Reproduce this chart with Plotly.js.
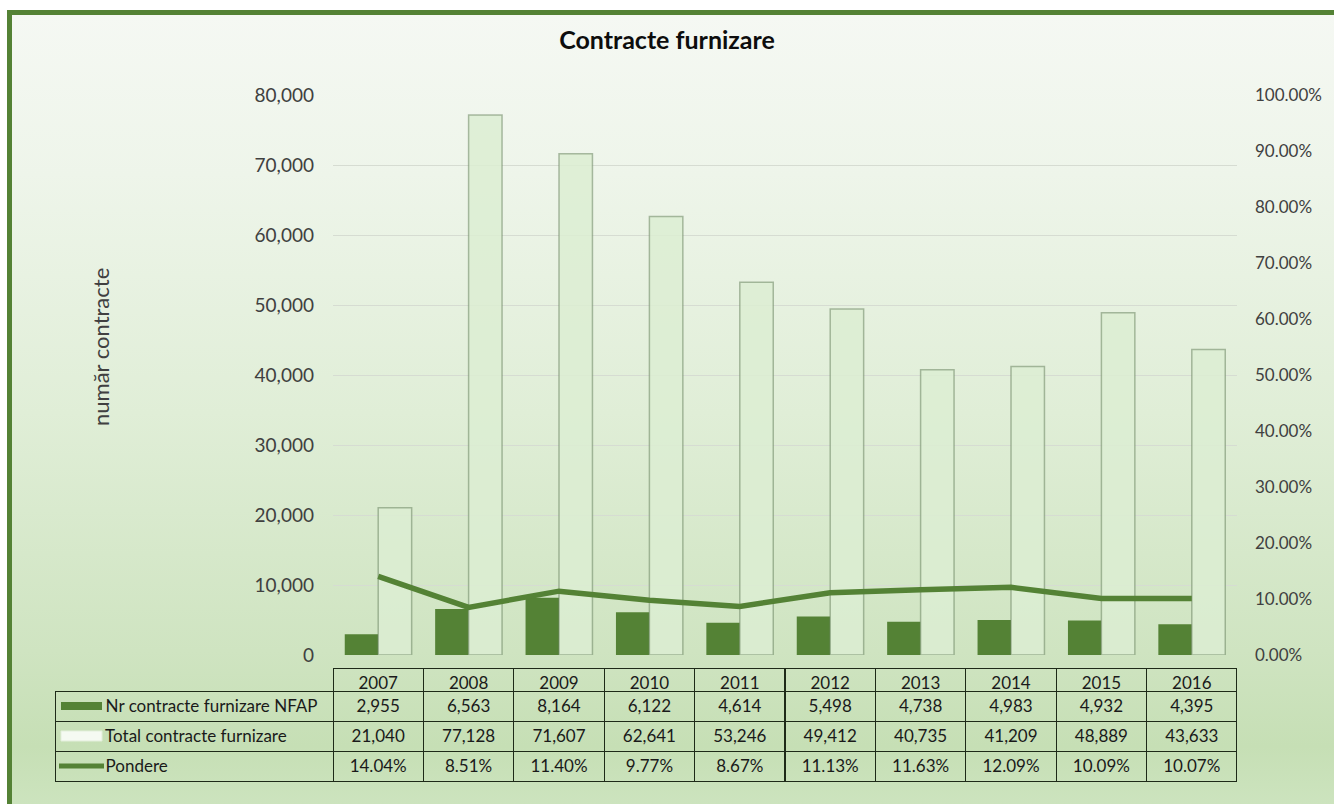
<!DOCTYPE html>
<html>
<head>
<meta charset="utf-8">
<script src="https://cdn.plot.ly/plotly-3.0.1.min.js"></script>
<style>
  html, body { margin: 0; padding: 0; background: #ffffff; overflow: hidden; }
  #frame {
    position: absolute; left: 7px; top: 10px; width: 1340px; height: 800px;
    box-sizing: border-box;
    border-left: 5px solid #548235; border-top: 5px solid #548235;
    background: linear-gradient(to bottom, #f5f8f3 0%, #eef5ea 20%, #e0eed7 50%, #cfe4c1 80%, #c6dfb5 92%, #cde4bf 100%);
  }
  #chart { position: absolute; left: 0; top: 0; width: 1334px; height: 804px; }
</style>
</head>
<body>
<div id="frame"></div>
<div id="chart"></div>
<script>
// ---- data ----
var years = ['2007', '2008', '2009', '2010', '2011', '2012', '2013', '2014', '2015', '2016'];
var nfap = [2955, 6563, 8164, 6122, 4614, 5498, 4738, 4983, 4932, 4395];
var total = [21040, 77128, 71607, 62641, 53246, 49412, 40735, 41209, 48889, 43633];
var pondere = [14.04, 8.51, 11.40, 9.77, 8.67, 11.13, 11.63, 12.09, 10.09, 10.07]; // percent
var seriesNames = ['Nr contracte furnizare NFAP', 'Total contracte furnizare', 'Pondere'];

// ---- geometry helpers (pixels -> paper) ----
var W = 1334, H = 804;
var mL = 55, mR = 97, mT = 95, mB = 22;
var pw = W - mL - mR, ph = H - mT - mB;
function px(x) { return (x - mL) / pw; }
function py(y) { return (H - mB - y) / ph; }

var green = '#548235';
var fontFam = 'Lato, "Open Sans", sans-serif';

var traces = [];
traces.push({
  type: 'bar', name: seriesNames[0], x: years, y: nfap,
  marker: { color: green },
  xaxis: 'x', yaxis: 'y', showlegend: false, hoverinfo: 'x+y'
});
traces.push({
  type: 'bar', name: seriesNames[1], x: years, y: total,
  marker: { color: 'rgba(220,237,210,0.85)', line: { color: 'rgba(110,135,100,0.55)', width: 1.5 } },
  xaxis: 'x', yaxis: 'y', showlegend: false, hoverinfo: 'x+y'
});
traces.push({
  type: 'scatter', mode: 'lines', name: seriesNames[2], x: years,
  y: pondere.map(function (v) { return v / 100; }),
  line: { color: green, width: 5.5 },
  xaxis: 'x', yaxis: 'y2', showlegend: false
});

// ---- data table ----
var pad = '\u2003\u2003\u2003\u00a0';
var headerVals = [['']].concat(years.map(function (y) { return [y]; }));
var cellVals = [seriesNames.map(function (n) { return pad + n; })];
for (var i = 0; i < years.length; i++) {
  cellVals.push([
    nfap[i].toLocaleString('en-US'),
    total[i].toLocaleString('en-US'),
    pondere[i].toFixed(2) + '%'
  ]);
}
var colW = [278].concat(years.map(function () { return 90.4; }));
var border = '#1e2a18';
var headerLine = ['rgba(0,0,0,0)'].concat(years.map(function () { return border; }));
var alignCells = ['left'].concat(years.map(function () { return 'center'; }));
traces.push({
  type: 'table',
  domain: { x: [0, 1], y: [0, py(668)] },
  columnwidth: colW,
  header: {
    values: headerVals, height: 23, align: 'center',
    line: { color: headerLine, width: 1 },
    fill: { color: 'rgba(0,0,0,0)' },
    font: { family: fontFam, size: 17, color: '#1a1a1a' }
  },
  cells: {
    values: cellVals, height: 30, align: alignCells,
    line: { color: border, width: 1 },
    fill: { color: 'rgba(0,0,0,0)' },
    font: { family: fontFam, size: 17, color: '#1a1a1a' }
  }
});

var shapes = [
  // legend swatches in the table
  { type: 'rect', xref: 'paper', yref: 'paper', x0: px(61), x1: px(102), y0: py(710), y1: py(702),
    fillcolor: green, line: { width: 0 } },
  { type: 'rect', xref: 'paper', yref: 'paper', x0: px(61), x1: px(102), y0: py(741), y1: py(731),
    fillcolor: 'rgba(250,253,248,0.9)', line: { color: '#e3efdb', width: 1 } },
  { type: 'line', xref: 'paper', yref: 'paper', x0: px(59), x1: px(104), y0: py(766), y1: py(766),
    line: { color: green, width: 5 } }
];

var layout = {
  width: W, height: H,
  margin: { l: mL, r: mR, t: mT, b: mB, pad: 0 },
  paper_bgcolor: 'rgba(0,0,0,0)',
  plot_bgcolor: 'rgba(0,0,0,0)',
  font: { family: fontFam, size: 14, color: '#404040' },
  title: {
    text: '<b>Contracte furnizare</b>',
    x: 0.5, xref: 'container', xanchor: 'center',
    y: 1 - 40 / H, yref: 'container', yanchor: 'middle',
    font: { family: fontFam, size: 25, color: '#0d0d0d' }
  },
  barmode: 'group', bargap: 0.26, bargroupgap: 0,
  xaxis: {
    domain: [px(333), 1], type: 'category',
    showticklabels: false, showgrid: false, zeroline: false, showline: false, ticks: ''
  },
  yaxis: {
    domain: [py(655), 1], range: [0, 80000], dtick: 10000, tickformat: ',',
    showgrid: true, gridcolor: '#d6dcd2', gridwidth: 1, zeroline: false, showline: false,
    ticks: '', ticklabelstandoff: 18,
    tickfont: { family: fontFam, size: 19, color: '#404040' }
  },
  yaxis2: {
    overlaying: 'y', side: 'right', range: [0, 1], dtick: 0.1, tickformat: '.2%',
    showgrid: false, zeroline: false, showline: false, ticks: '', ticklabelstandoff: 17,
    tickfont: { family: fontFam, size: 17, color: '#404040' }
  },
  annotations: [{
    text: 'număr contracte', textangle: -90, showarrow: false,
    xref: 'paper', yref: 'paper', x: px(100), y: py(347), xanchor: 'center', yanchor: 'middle',
    font: { family: fontFam, size: 22, color: '#404040' }
  }],
  shapes: shapes
};

Plotly.newPlot('chart', traces, layout, { displayModeBar: false, staticPlot: true });
</script>
</body>
</html>
